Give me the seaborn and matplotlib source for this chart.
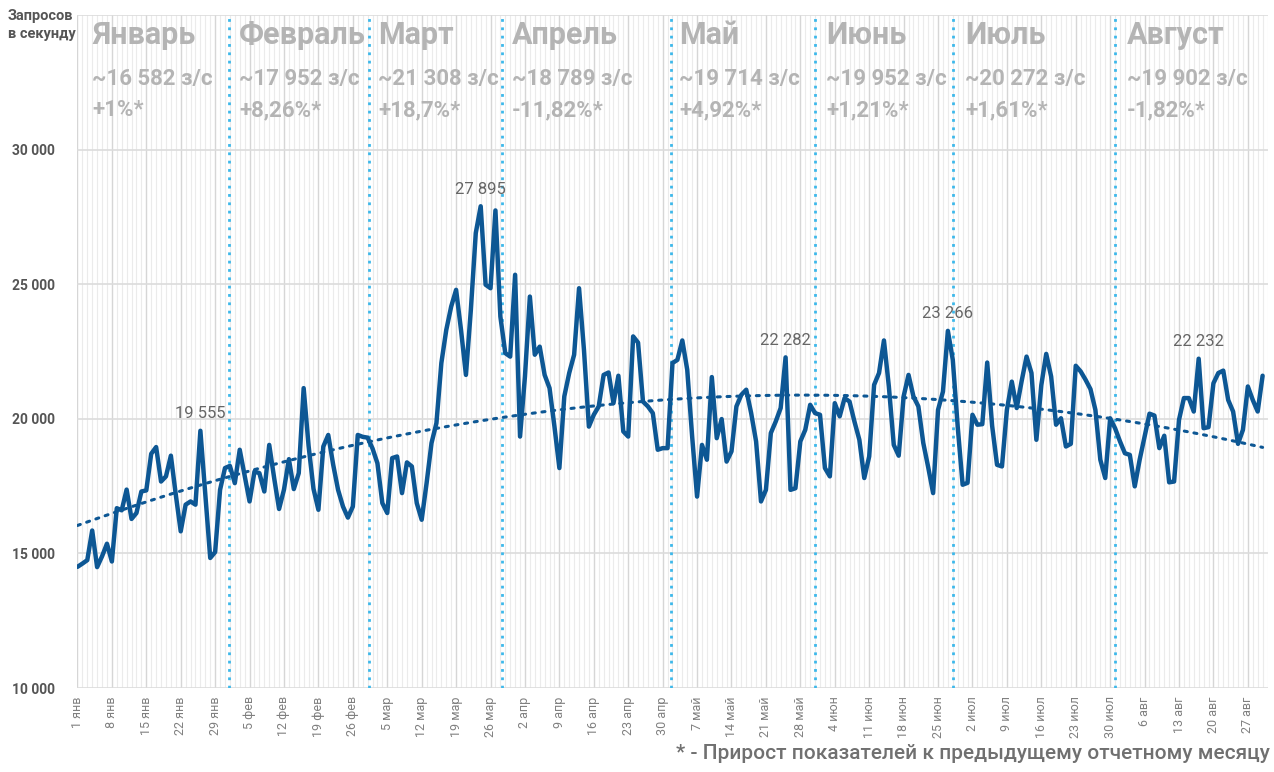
import numpy as np
import pandas as pd
import matplotlib
matplotlib.use("Agg")
import matplotlib.pyplot as plt
import seaborn as sns

# ---------------- data ----------------
requests_per_sec = [
    14500, 14620, 14750, 15850, 14490, 14890, 15360, 14700, 16680, 16600,
    17370, 16280, 16500, 17300, 17340, 18700, 18950, 17670, 17860, 18630,
    17180, 15820, 16810, 16930, 16810, 19555, 17200, 14830, 15050, 17360,
    18170, 18250, 17610, 18850, 17900, 16930, 18040, 17980, 17300, 19030,
    17800, 16650, 17370, 18500, 17390, 17980, 21140, 19000, 17400, 16620,
    18970, 19400, 18300, 17360, 16740, 16330, 16740, 19400, 19330, 19300,
    18900, 18350, 16870, 16500, 18540, 18600, 17240, 18380, 18230, 16870,
    16250, 17610, 19100, 19840, 22070, 23300, 24170, 24790, 23300, 21630,
    24050, 26900, 27895, 24980, 24850, 27740, 23800, 22440, 22310, 25350,
    19340, 21570, 24540, 22380, 22680, 21630, 21140, 19710, 18170, 20830,
    21700, 22380, 24850, 22560, 19710, 20150, 20460, 21630, 21720, 20580,
    21600, 19530, 19340, 23060, 22830, 20640, 20460, 20210, 18850, 18910,
    18910, 22070, 22190, 22910, 21820, 19340, 17110, 19030, 18480, 21550,
    19280, 19990, 18410, 18790, 20460, 20890, 21080, 20210, 19160, 16930,
    17360, 19470, 19900, 20400, 22282, 17360, 17420, 19160, 19590, 20520,
    20210, 20150, 18170, 17860, 20580, 20090, 20770, 20640, 19900, 19220,
    17800, 18600, 21260, 21700, 22910, 21200, 19030, 18630, 20830, 21630,
    20830, 20460, 19100, 18200, 17240, 20330, 21010, 23266, 22190, 19710,
    17550, 17620, 20150, 19780, 19800, 22090, 19740, 18290, 18230, 20330,
    21380, 20400, 21400, 22310, 21700, 19220, 21250, 22410, 21570, 19780,
    20020, 18970, 19070, 21970, 21760, 21450, 21100, 20330, 18480, 17800,
    20020, 19650, 19160, 18720, 18660, 17490, 18480, 19340, 20190, 20120,
    18910, 19370, 17640, 17670, 19960, 20770, 20770, 20270, 22232, 19650,
    19690, 21320, 21700, 21790, 20700, 20270, 19070, 19590, 21200, 20700,
    20270, 21600,
]
day_index = list(range(len(requests_per_sec)))

tick_labels = [
    "1 янв", "8 янв", "15 янв", "22 янв", "29 янв",
    "5 фев", "12 фев", "19 фев", "26 фев",
    "5 мар", "12 мар", "19 мар", "26 мар",
    "2 апр", "9 апр", "16 апр", "23 апр", "30 апр",
    "7 май", "14 май", "21 май", "28 май",
    "4 июн", "11 июн", "18 июн", "25 июн",
    "2 июл", "9 июл", "16 июл", "23 июл", "30 июл",
    "6 авг", "13 авг", "20 авг", "27 авг",
]

month_names = ["Январь", "Февраль", "Март", "Апрель", "Май", "Июнь", "Июль", "Август"]
month_avg = ["~16 582 з/с", "~17 952 з/с", "~21 308 з/с", "~18 789 з/с",
             "~19 714 з/с", "~19 952 з/с", "~20 272 з/с", "~19 902 з/с"]
month_growth = ["+1%*", "+8,26%*", "+18,7%*", "-11,82%*",
                "+4,92%*", "+1,21%*", "+1,61%*", "-1,82%*"]

peak_days = [25, 82, 144, 177, 228]
peak_labels = ["19 555", "27 895", "22 282", "23 266", "22 232"]

y_ticks = [10000, 15000, 20000, 25000, 30000]
y_tick_labels = ["10 000", "15 000", "20 000", "25 000", "30 000"]

# ---------------- layout / style ----------------
separator_pos = [30.9, 59.3, 86.4, 120.7, 150.0, 178.0, 211.0]
month_text_pos = [3.0, 32.9, 61.2, 88.4, 122.4, 152.2, 180.5, 213.4]

LINE_C = "#0d5794"
SEP_C = "#3db8ea"
MONTH_C = "#b4b4b4"
FONT = ["Roboto", "DejaVu Sans"]

df = pd.DataFrame({"day": day_index, "value": requests_per_sec})

sns.set_theme(style="white")
plt.rcParams["font.family"] = FONT

fig = plt.figure(figsize=(12.74, 7.72), dpi=100)
ax = fig.add_axes([0.0604, 0.1088, 0.9349, 0.8718])

n = len(day_index)
ax.set_xlim(-0.1, 242.1)
ax.set_ylim(10000, 35000)

# grids
ax.set_xticks(list(range(0, n, 7)))
ax.set_xticks(list(range(0, n + 1)), minor=True)
ax.set_yticks(y_ticks + [35000])
ax.grid(True, which="major", axis="x", color="#d6d6d6", lw=1.0, zorder=0)
ax.grid(True, which="minor", axis="x", color="#ebebeb", lw=0.8, zorder=0)
ax.grid(True, which="major", axis="y", color="#dcdcdc", lw=1.2, zorder=0)
for s in ax.spines.values():
    s.set_visible(False)

# month separators
for p in separator_pos:
    ax.axvline(p, color=SEP_C, lw=2.0, ls=(0, (1, 2)), zorder=1)

# trend line
sns.regplot(data=df, x="day", y="value", order=2, scatter=False, ci=None, ax=ax,
            truncate=True,
            line_kws=dict(color=LINE_C, lw=2.2, ls=(0, (1, 2.2)),
                          dash_capstyle="round", zorder=2))

# main series
sns.lineplot(data=df, x="day", y="value", color=LINE_C, lw=3.2, ax=ax, zorder=3)

ax.set_xlabel("")
ax.set_ylabel("")

# tick labels
ax.set_xticklabels(tick_labels, rotation=90, fontsize=9, color="#808080",
                   family=FONT)
ax.set_yticklabels(y_tick_labels + [""], fontsize=10, color="#555555",
                   fontweight="bold", family=FONT)
ax.tick_params(axis="both", which="both", length=0)
ax.tick_params(axis="x", pad=6)
ax.tick_params(axis="y", pad=16)

# peak labels
for d, lab in zip(peak_days, peak_labels):
    ax.annotate(lab, xy=(d, requests_per_sec[d]), xytext=(0, 7),
                textcoords="offset points", ha="center", va="bottom",
                fontsize=12, color="#666666", family=FONT)

# month blocks
tr = ax.get_xaxis_transform()
for xpos, name, avg, gr in zip(month_text_pos, month_names, month_avg, month_growth):
    ax.text(xpos, 0.992, name, transform=tr, ha="left", va="top",
            fontsize=22, fontweight="bold", color=MONTH_C, family=FONT)
    ax.text(xpos, 0.921, avg, transform=tr, ha="left", va="top",
            fontsize=16, fontweight="bold", color=MONTH_C, family=FONT)
    ax.text(xpos, 0.875, gr, transform=tr, ha="left", va="top",
            fontsize=16, fontweight="bold", color=MONTH_C, family=FONT)

# axis title
fig.text(0.006, 0.988, "Запросов\nв секунду", ha="left", va="top",
         fontsize=10.5, fontweight="bold", color="#555555", family=FONT,
         linespacing=1.35)

# footnote
fig.text(0.997, 0.012, "* - Прирост показателей к предыдущему отчетному месяцу",
         ha="right", va="bottom", fontsize=15, fontweight="medium",
         color="#707070", family=FONT)

fig.savefig("out.png", dpi=100)
